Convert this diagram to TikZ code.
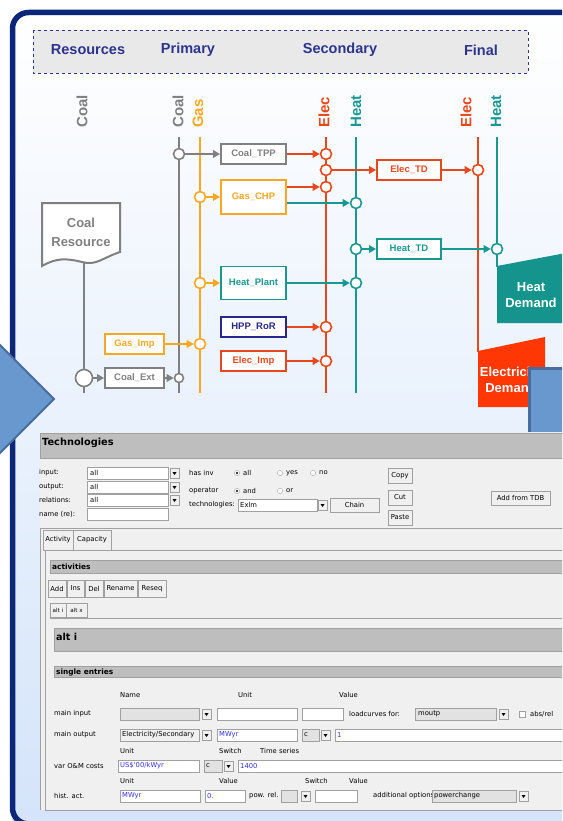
\documentclass[tikz,border=0pt]{standalone}
\usepackage{fontspec}
\setmainfont{Liberation Sans}
\newfontfamily\guifont{DejaVu Sans}
\usepackage{xcolor}
\usepackage{tikz}
\usetikzlibrary{calc}
\usetikzlibrary{arrows.meta}

\definecolor{framenavy}{RGB}{12,38,122}
\definecolor{hdrnavy}{RGB}{44,52,140}
\definecolor{hdrfill}{RGB}{233,233,233}
\definecolor{coalgray}{RGB}{128,128,128}
\definecolor{gasorange}{RGB}{246,167,35}
\definecolor{elecred}{RGB}{230,72,30}
\definecolor{heatteal}{RGB}{25,152,146}
\definecolor{hppnavy}{RGB}{40,40,140}
\definecolor{demandred}{RGB}{255,55,5}
\definecolor{demandteal}{RGB}{20,148,140}
\definecolor{chevron}{RGB}{104,152,205}
\definecolor{chevronline}{RGB}{72,108,158}
\definecolor{bgblue}{RGB}{212,228,250}
\definecolor{guibg}{RGB}{240,240,240}
\definecolor{guibar}{RGB}{190,190,190}
\definecolor{guiline}{RGB}{160,160,160}
\definecolor{guigrey}{RGB}{226,226,226}
\definecolor{guiblue}{RGB}{50,50,240}

\tikzset{
  bus/.style={line width=2.6pt},
  flow/.style={line width=2.2pt, -{Triangle[length=7pt,width=7.5pt]}},
  hub/.style={circle, draw, fill=white, line width=1.6pt, minimum size=11pt, inner sep=0pt},
  tech/.style={draw, fill=white, line width=1.8pt, minimum width=65pt, minimum height=20pt,
    inner sep=1pt, font=\bfseries\fontsize{9.5}{10}\selectfont},
  carrier/.style={rotate=90, anchor=west, inner sep=0pt, font=\bfseries\fontsize{15}{15}\selectfont},
  stage/.style={text=hdrnavy, font=\bfseries\fontsize{14.5}{15}\selectfont},
  lbl/.style={anchor=west, inner sep=0pt, font=\guifont\fontsize{6.8}{7}\selectfont},
  boldlbl/.style={anchor=west, inner sep=0pt, font=\guifont\bfseries\fontsize{7.4}{8}\selectfont},
  field/.style={draw=guiline, fill=white, line width=0.5pt},
  guibtn/.style={draw=guiline, fill=guibg, line width=0.6pt},
  guibarbox/.style={draw=guiline, fill=guibar, line width=0.6pt},
}

\newcommand{\dropbtn}[2]{%
  \draw[guibtn] (#1,#2) rectangle ++(9,10);
  \fill ($(#1,#2)+(2.5,4)$) -- ++(4,0) -- ++(-2,3) -- cycle;}

\begin{document}
\begin{tikzpicture}[x=1pt,y=-1pt]
    %BACKGROUND
    \useasboundingbox (0,0) rectangle (562,821);
    \clip (0,0) rectangle (562,821);
    \fill[white] (0,0) rectangle (562,821);
    \shade[top color=white, bottom color=bgblue] (12,12) rectangle (600,824);
    \draw[framenavy, line width=5.5pt, rounded corners=16pt] (620,12.5) -- (12.5,12.5) -- (12.5,824) -- (620,824);
    %HEADER
    \draw[hdrnavy, dashed, line width=0.9pt, fill=hdrfill] (33,30) rectangle (528,73);
    \node[stage] (res) at (88,50) {Resources};
    \node[stage] (pri) at (188,50) {Primary};
    \node[stage] (sec) at (340,50) {Secondary};
    \node[stage] (fin) at (481,50) {Final};
    %CARRIERS
    \node[carrier, text=coalgray] (lcoalres) at (82,128) {Coal};
    \node[carrier, text=coalgray] (lcoal) at (178,128) {Coal};
    \node[carrier, text=gasorange] (lgas) at (198,128) {Gas};
    \node[carrier, text=elecred] (lelec) at (324,128) {Elec};
    \node[carrier, text=heatteal] (lheat) at (356,128) {Heat};
    \node[carrier, text=elecred] (lelecf) at (466,128) {Elec};
    \node[carrier, text=heatteal] (lheatf) at (496,128) {Heat};
    %DEMAND
    \fill[demandteal] (497,266) -- (566,253) -- (566,323) -- (497,323) -- cycle;
    \node[text=white, align=center, font=\bfseries\fontsize{13}{16.5}\selectfont] (heatdem) at (531,295) {Heat\\Demand};
    \fill[demandred] (478,351) -- (545,337) -- (545,407) -- (478,407) -- cycle;
    \node[text=white, align=center, font=\bfseries\fontsize{13}{16}\selectfont] (elecdem) at (511,380) {Electricity\\Demand};
    %COAL RESOURCE
    \draw[coalgray, line width=2pt, fill=white] (42,203) -- (120,203) -- (120,252)
      .. controls (102,258) and (96,266) .. (82,262) .. controls (66,258) and (56,258) .. (42,266) -- cycle;
    \node[text=coalgray, align=center, font=\bfseries\fontsize{13}{19}\selectfont] (coalres) at (81,232) {Coal\\Resource};
    %BUSES
    \coordinate (resbot) at (84,263);
    \coordinate (resend) at (84,393);
    \coordinate (coaltop) at (179,137);
    \coordinate (coalbot) at (179,393);
    \coordinate (gastop) at (200,137);
    \coordinate (gasbot) at (200,393);
    \coordinate (electop) at (326,137);
    \coordinate (elecbot) at (326,393);
    \coordinate (heattop) at (356,137);
    \coordinate (heatbot) at (356,393);
    \coordinate (elecftop) at (478,137);
    \coordinate (elecfbot) at (478,352);
    \coordinate (heatftop) at (497,137);
    \coordinate (heatfbot) at (497,267);
    \draw[bus, coalgray] (resbot) -- (resend);
    \draw[bus, coalgray] (coaltop) -- (coalbot);
    \draw[bus, gasorange] (gastop) -- (gasbot);
    \draw[bus, elecred] (electop) -- (elecbot);
    \draw[bus, heatteal] (heattop) -- (heatbot);
    \draw[bus, elecred] (elecftop) -- (elecfbot);
    \draw[bus, heatteal] (heatftop) -- (heatfbot);
    %HUBS
    \node[hub, draw=coalgray] (cc1) at (179,154) {};
    \node[hub, draw=coalgray, minimum size=9pt] (cc2) at (179,378) {};
    \node[hub, draw=coalgray, minimum size=17pt] (rc) at (84,378) {};
    \node[hub, draw=gasorange] (gc1) at (200,197) {};
    \node[hub, draw=gasorange] (gc2) at (200,283) {};
    \node[hub, draw=gasorange] (gc3) at (200,344) {};
    \node[hub, draw=elecred] (ec1) at (326,154) {};
    \node[hub, draw=elecred] (ec2) at (326,170) {};
    \node[hub, draw=elecred] (ec3) at (326,187) {};
    \node[hub, draw=elecred] (ec4) at (326,327) {};
    \node[hub, draw=elecred] (ec5) at (326,361) {};
    \node[hub, draw=heatteal] (hc1) at (356,203) {};
    \node[hub, draw=heatteal] (hc2) at (356,249) {};
    \node[hub, draw=heatteal] (hc3) at (356,283) {};
    \node[hub, draw=elecred] (efc) at (478,170) {};
    \node[hub, draw=heatteal] (hfc) at (497,249) {};
    %TECHNOLOGIES
    \node[tech, draw=coalgray, text=coalgray] (coaltpp) at (253.5,154) {Coal\_TPP};
    \node[tech, draw=gasorange, text=gasorange, minimum height=34pt] (gaschp) at (253.5,197) {Gas\_CHP};
    \node[tech, draw=heatteal, text=heatteal, minimum height=33pt] (heatplant) at (253.5,283) {Heat\_Plant};
    \node[tech, draw=hppnavy, text=hppnavy] (hppror) at (253.5,327) {HPP\_RoR};
    \node[tech, draw=elecred, text=elecred] (elecimp) at (253.5,361) {Elec\_Imp};
    \node[tech, draw=elecred, text=elecred, minimum width=64pt] (electd) at (409,170) {Elec\_TD};
    \node[tech, draw=heatteal, text=heatteal, minimum width=64pt] (heattd) at (409,249) {Heat\_TD};
    \node[tech, draw=gasorange, text=gasorange, minimum width=59pt] (gasimp) at (134.5,344) {Gas\_Imp};
    \node[tech, draw=coalgray, text=coalgray, minimum width=59pt] (coalext) at (134.5,378) {Coal\_Ext};
    %FLOWS
    \draw[flow, coalgray] (cc1) -- (coaltpp);
    \draw[flow, elecred] (coaltpp) -- (ec1);
    \draw[flow, elecred] (ec2) -- (electd);
    \draw[flow, elecred] (electd) -- (efc);
    \draw[flow, gasorange] (gc1) -- (gaschp);
    \draw[flow, elecred] (gaschp.east |- ec3) -- (ec3);
    \draw[flow, heatteal] (gaschp.east |- hc1) -- (hc1);
    \draw[flow, heatteal] (hc2) -- (heattd);
    \draw[flow, heatteal] (heattd) -- (hfc);
    \draw[flow, gasorange] (gc2) -- (heatplant);
    \draw[flow, heatteal] (heatplant) -- (hc3);
    \draw[flow, elecred] (hppror) -- (ec4);
    \draw[flow, elecred] (elecimp) -- (ec5);
    \draw[flow, gasorange] (gasimp) -- (gc3);
    \draw[flow, coalgray] (rc) -- (coalext);
    \draw[flow, coalgray] (coalext) -- (cc2);
    %BLUE ARROWS
    \draw[chevronline, fill=chevron, line width=2pt] (-5,340) -- (54,399) -- (-5,458) -- cycle;
    \draw[chevronline, fill=chevron, line width=3pt] (529,368) rectangle (575,433);
    %SCREEN
    \fill[guibg] (40,432) rectangle (572,810);
    \draw[guibarbox] (40,433) rectangle (572,458);
    \node[anchor=west, inner sep=0pt, font=\guifont\bfseries\fontsize{9.8}{10}\selectfont] (techtitle) at (42,443) {Technologies};
    \foreach \t/\x/\y [count=\i] in {input:/39/473, output:/39/487, relations:/39/500, name (re):/39/514,
        has inv/189/473, operator/189/491, technologies:/189/505}
      \node[lbl] (flab\i) at (\x,\y) {\t};
    \foreach \y [count=\i] in {473,487,500} {
      \draw[field] (87,\y-6) rectangle (168,\y+6);
      \node[lbl] (fall\i) at (90,\y) {all};
      \dropbtn{170}{\y-5}
    }
    \draw[field] (87,508) rectangle (168,520);
    \foreach \x/\y/\t/\s [count=\i] in {237/473/all/1, 280/473/yes/0, 313/473/no/0, 237/491/and/1, 280/491/or/0} {
      \draw[guiline, fill=white] (\x,\y) circle (2.6pt);
      \ifnum\s=1 \fill (\x,\y) circle (1.1pt); \fi
      \node[lbl] (rad\i) at (\x+6,\y) {\t};
    }
    \draw[field] (238,499) rectangle (317,511);
    \node[lbl] (texlm) at (240,505) {Exlm};
    \dropbtn{318}{500}
    \foreach \t/\a/\b/\c/\d [count=\i] in {Chain/330/498/379/512, Copy/388/468/412/483, Cut/388/490/412/505,
        Paste/388/510/412/525, Add from TDB/491/491/550/505} {
      \draw[guibtn] (\a,\b) rectangle (\c,\d);
      \node[lbl, anchor=center] (btn\i) at ({(\a+\c)/2},{(\b+\d)/2}) {\t};
    }
    \draw[guiline] (40,528) -- (572,528);
    \draw[guiline] (40,528) -- (40,810);
    \foreach \t/\a/\c [count=\i] in {Activity/43/73, Capacity/73/111} {
      \draw[guibtn] (\a,530) rectangle (\c,550);
      \node[lbl, anchor=center] (tab\i) at ({(\a+\c)/2},540) {\t};
    }
    \draw[guiline] (45,550) rectangle (575,810);
    \draw[guibarbox] (50,560) rectangle (575,573);
    \node[boldlbl] (acttitle) at (52,567) {activities};
    \foreach \t/\a/\c [count=\i] in {Add/48/66, Ins/67/84, Del/85/103, Rename/104/137, Reseq/138/166} {
      \draw[guibtn] (\a,580) rectangle (\c,597);
      \node[lbl, anchor=center] (act\i) at ({(\a+\c)/2},588.5) {\t};
    }
    \foreach \t/\a/\c [count=\i] in {alt i/50/66, alt x/66/87} {
      \draw[guibtn] (\a,603) rectangle (\c,617);
      \node[lbl, anchor=center, font=\guifont\fontsize{5.6}{6}\selectfont] (alt\i) at ({(\a+\c)/2},610) {\t};
    }
    \draw[guiline] (50,618) -- (575,618);
    \draw[guibarbox] (54,628) rectangle (575,651);
    \node[anchor=west, inner sep=0pt, font=\guifont\bfseries\fontsize{9.6}{10}\selectfont] (alttitle) at (56,637) {alt i};
    \draw[guibarbox] (54,666) rectangle (575,677);
    \node[boldlbl] (singletitle) at (56,672) {single entries};
    %ROW LABELS
    \foreach \t/\x/\y [count=\i] in {Name/120/695, Unit/238/695, Value/339/695, main input/54/714,
        main output/54/735, Unit/120/751, Switch/219/751, Time series/260/751, var O\&M costs/54/766,
        Unit/120/781, Value/219/781, Switch/305/781, Value/349/781, hist. act./54/796,
        loadcurves for:/349/714, pow. rel./249/796, additional options:/373/796}
      \node[lbl] (row\i) at (\x,\y) {\t};
    %MAIN INPUT
    \draw[field, fill=guigrey] (120,708) rectangle (199,720);
    \dropbtn{202}{709}
    \draw[field] (217,708) rectangle (297,720);
    \draw[field] (302,708) rectangle (343,720);
    \draw[field, fill=guigrey] (415,708) rectangle (496,720);
    \node[lbl] (moutp) at (418,714) {moutp};
    \dropbtn{499}{709}
    \draw[field] (519,711) rectangle (525,717);
    \node[lbl] (absrel) at (530,714) {abs/rel};
    %MAIN OUTPUT
    \draw[field, fill=guibg] (120,729) rectangle (199,741);
    \node[lbl] (elecsec) at (122,735) {Electricity/Secondary};
    \dropbtn{202}{730}
    \draw[field] (217,729) rectangle (297,741);
    \node[lbl, text=guiblue] (mwyra) at (219,735) {MWyr};
    \draw[field, fill=guigrey] (302,729) rectangle (319,741);
    \node[lbl] (swa) at (304,735) {c};
    \dropbtn{321}{730}
    \draw[field] (335,729) rectangle (575,741);
    \node[lbl, text=guiblue] (vala) at (337,735) {1};
    %VAR OM
    \draw[field] (118,760) rectangle (199,772);
    \node[lbl, text=guiblue] (usd) at (120,766) {US\$'00/kWyr};
    \draw[field, fill=guigrey] (204,760) rectangle (222,772);
    \node[lbl] (swb) at (206,766) {c};
    \dropbtn{224}{761}
    \draw[field] (238,760) rectangle (575,772);
    \node[lbl, text=guiblue] (valb) at (240,766) {1400};
    %HIST ACT
    \draw[field] (120,790) rectangle (200,802);
    \node[lbl, text=guiblue] (mwyrb) at (122,796) {MWyr};
    \draw[field] (205,790) rectangle (245,802);
    \node[lbl, text=guiblue] (valc) at (207,796) {0.};
    \draw[field, fill=guigrey] (281,790) rectangle (297,802);
    \dropbtn{301}{791}
    \draw[field] (315,790) rectangle (357,802);
    \draw[field, fill=guigrey] (432,790) rectangle (516,802);
    \node[lbl] (powch) at (434,796) {powerchange};
    \dropbtn{519}{791}
\end{tikzpicture}
\end{document}
